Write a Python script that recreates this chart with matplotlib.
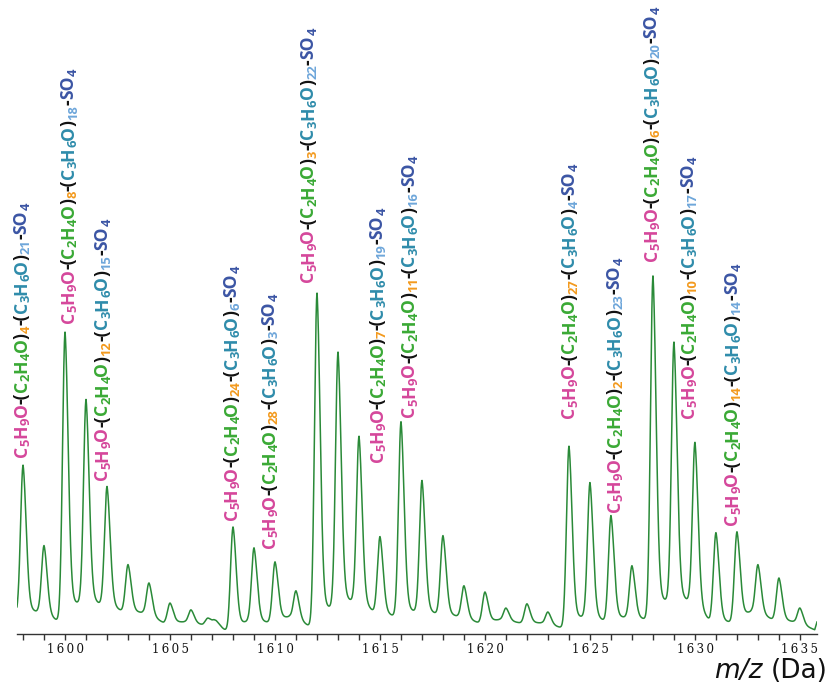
import numpy as np
import matplotlib
matplotlib.use("Agg")
import matplotlib.pyplot as plt
from matplotlib.transforms import IdentityTransform
from matplotlib.font_manager import FontProperties
from matplotlib.ticker import MultipleLocator

# ---------------- data ----------------
peak_mz = [1598, 1599, 1600, 1601, 1602, 1603, 1604, 1605, 1606, 1606.8, 1607.2,
           1608, 1609, 1610, 1611, 1612, 1613, 1614, 1615, 1616, 1617, 1618, 1619,
           1620, 1621, 1622, 1623, 1624, 1625, 1626, 1627, 1628, 1629, 1630, 1631,
           1632, 1633, 1634, 1635]
peak_int = [47.1, 24.5, 84.3, 65.3, 41.0, 19.2, 14.1, 8.5, 6.6, 4.3, 3.5,
            29.8, 23.9, 20.0, 11.9, 95.2, 78.5, 55.0, 27.0, 59.2, 42.7, 27.3, 13.3,
            11.6, 7.1, 8.3, 6.0, 52.4, 42.1, 32.9, 18.9, 100.0, 81.3, 53.3, 28.1,
            28.4, 19.2, 15.5, 7.1]
# minimum between consecutive peaks (and after the last one)
valley_int = [5.7, 3.2, 8.0, 7.7, 6.0, 5.7, 2.9, 3.2, 2.4, 3.0, 0.4,
              3.2, 2.9, 4.6, 1.8, 6.6, 8.5, 5.7, 4.6, 5.7, 5.2, 4.6, 2.9,
              3.8, 2.9, 2.9, 1.5, 4.3, 3.2, 4.3, 3.8, 8.5, 8.5, 3.2, 2.9,
              6.0, 3.8, 3.2, 1.0]
start_int = 5.2
end_int = 3.2

# annotated compositions: (C2H4O)n, (C3H6O)m
label_eo = [4, 8, 12, 24, 28, 3, 7, 11, 27, 2, 6, 10, 14]
label_po = [21, 18, 15, 6, 3, 22, 19, 16, 4, 23, 20, 17, 14]

xtick_values = [1600, 1605, 1610, 1615, 1620, 1625, 1630, 1635]

# ---------------- layout ----------------
W, H = 834, 687
XMIN, XMAX = 1597.71, 1635.81
YMAX = 177.2
# label anchor: (m/z of text centre, intensity at text start)
label_pos = [(1597.86, 49.4), (1600.10, 86.9), (1601.71, 42.9), (1607.86, 31.7),
             (1609.67, 23.9), (1611.52, 98.3), (1614.81, 48.0), (1616.33, 60.6),
             (1623.95, 60.3), (1626.10, 34.0), (1627.86, 104.2), (1629.62, 60.3),
             (1631.71, 30.3)]

PINK = '#d5479b'
GREEN = '#3aa935'
ORANGE = '#f39a1e'
TEAL = '#2f8cab'
LBLUE = '#6ea6da'
NAVY = '#3b55a4'
BLACK = '#111111'
LINE = '#2a8a38'

fig = plt.figure(figsize=(W / 100, H / 100), dpi=100)
ax = fig.add_axes([17 / W, 1 - 633.5 / H, 800 / W, 633.5 / H])
ax.set_xlim(XMIN, XMAX)
ax.set_ylim(0, YMAX)

# ---------------- spectrum profile ----------------
pm = np.array(peak_mz, float)
vpos = [XMIN] + [pm[i] + 0.7 * (pm[i + 1] - pm[i]) for i in range(len(pm) - 1)] + [pm[-1] + 0.7, XMAX]
vval = [start_int] + list(valley_int) + [end_int]
xs = np.linspace(XMIN, XMAX, 8000)
ys = np.interp(xs, vpos, vval)
for m, T in zip(peak_mz, peak_int):
    amp = T - np.interp(m, vpos, vval)
    d = xs - m
    shape = np.where(d < 0, np.exp(-0.5 * (d / 0.12) ** 2),
                     0.78 * np.exp(-0.5 * (d / 0.15) ** 2) + 0.22 * np.exp(-np.clip(d, 0, None) / 0.22))
    ys = ys + amp * shape
ax.plot(xs, ys, color=LINE, lw=1.1, solid_joinstyle='round')

# ---------------- axes styling ----------------
for s in ['top', 'left', 'right']:
    ax.spines[s].set_visible(False)
ax.spines['bottom'].set_color('#333333')
ax.spines['bottom'].set_linewidth(1.0)
ax.yaxis.set_visible(False)
ax.set_xticks(xtick_values)
ax.set_xticklabels(['\u2009'.join(str(v)) for v in xtick_values],
                   fontfamily='DejaVu Serif', fontsize=8.5, color='#111111')
ax.xaxis.set_minor_locator(MultipleLocator(1))
ax.tick_params(axis='x', which='both', direction='out', length=4, width=1.0,
               color='#333333', pad=2.5)

# axis title m/z (Da)
fig.text(828 / W, 1 - 678 / H, '(Da)', ha='right', va='baseline',
         fontsize=19, family='DejaVu Sans', color='#111111')
fig.text(763 / W, 1 - 678 / H, 'm/z', ha='right', va='baseline',
         fontsize=19, family='DejaVu Sans', style='italic', color='#111111')

# ---------------- rotated multi-coloured labels ----------------
renderer = fig.canvas.get_renderer()
FAMILY = 'Open Sans'


def pieces_for(n_eo, n_po):
    return [("C", PINK, 0), ("5", PINK, 1), ("H", PINK, 0), ("9", PINK, 1), ("O", PINK, 0),
            ("-(", BLACK, 0),
            ("C", GREEN, 0), ("2", GREEN, 1), ("H", GREEN, 0), ("4", GREEN, 1), ("O", GREEN, 0),
            (")", BLACK, 0), (str(n_eo), ORANGE, 1),
            ("-(", BLACK, 0),
            ("C", TEAL, 0), ("3", TEAL, 1), ("H", TEAL, 0), ("6", TEAL, 1), ("O", TEAL, 0),
            (")", BLACK, 0), (str(n_po), LBLUE, 1),
            ("-", BLACK, 0), ("SO", NAVY, 0), ("4", NAVY, 1)]


def adv(s, fp):
    w1, _, _ = renderer.get_text_width_height_descent("H" + s + "H", fp, ismath=False)
    w0, _, _ = renderer.get_text_width_height_descent("HH", fp, ismath=False)
    return w1 - w0


SUBR = 0.74


def total_len(pcs, fs):
    fpm = FontProperties(family=FAMILY, weight='bold', size=fs)
    fps = FontProperties(family=FAMILY, weight='bold', size=fs * SUBR)
    return sum(adv(s, fps if sub else fpm) for s, c, sub in pcs)


# fit font size so the first label spans ~252 px
L10 = total_len(pieces_for(label_eo[0], label_po[0]), 10.0)
FS = 10.0 * 252.0 / L10
fp_main = FontProperties(family=FAMILY, weight='bold', size=FS)
fp_sub = FontProperties(family=FAMILY, weight='bold', size=FS * SUBR)
_, cap_h, _ = renderer.get_text_width_height_descent("H", fp_main, ismath=False)
fs_px = FS * 100 / 72.0

for (lx, ly), neo, npo in zip(label_pos, label_eo, label_po):
    x0, y0 = ax.transData.transform((lx, ly))
    bx = x0 + cap_h / 2.0
    cur = y0
    for s, c, sub in pieces_for(neo, npo):
        fp = fp_sub if sub else fp_main
        xx = bx + (0.18 * fs_px if sub else 0.0)
        fig.text(xx, cur, s, transform=IdentityTransform(), rotation=90,
                 rotation_mode='anchor', ha='left', va='baseline',
                 fontproperties=fp, color=c)
        cur += adv(s, fp)

fig.savefig('out.png', dpi=100)
